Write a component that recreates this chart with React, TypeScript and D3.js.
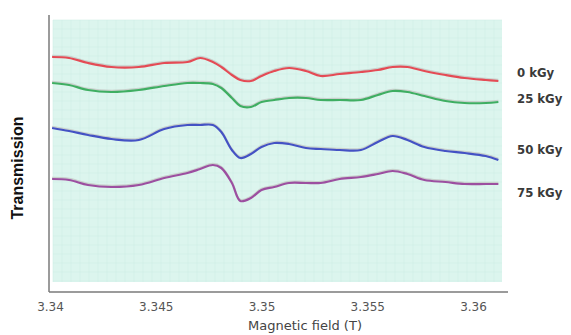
import { useEffect, useRef } from "react";
import * as d3 from "d3";

// magnetic field (T), shared sampling for all four traces
const fields = [3.3401, 3.3409, 3.3418, 3.3429, 3.3442, 3.3454, 3.3465, 3.3471, 3.3477, 3.3481, 3.3486, 3.3490, 3.3495, 3.3500,
    3.3506, 3.3513, 3.3521, 3.3528, 3.3537, 3.3547, 3.3555, 3.3562, 3.3569, 3.3577, 3.3587, 3.3596, 3.3606, 3.3612];

// transmission, arbitrary units (traces offset vertically)
const dose0 = [225, 224, 219, 215, 215, 219, 220, 224, 220, 215, 207, 202, 201, 206, 211, 214, 211, 206, 208, 210, 212, 215, 215, 211, 207, 204, 202, 201];
const dose25 = [199, 197, 192, 190, 192, 196, 199, 199, 198, 194, 184, 176, 175, 180, 182, 184, 184, 182, 182, 182, 187, 191, 190, 186, 181, 179, 179, 180];
const dose50 = [154, 151, 147, 143, 142, 153, 157, 157, 157, 150, 132, 124, 128, 135, 139, 138, 134, 133, 132, 132, 140, 146, 142, 135, 131, 129, 126, 122];
const dose75 = [103, 102, 97, 95, 97, 104, 109, 113, 117, 114, 99, 81, 84, 92, 95, 99, 99, 99, 103, 105, 108, 111, 108, 102, 100, 98, 98, 98];

const seriesLabels = ["0 kGy", "25 kGy", "50 kGy", "75 kGy"];
const seriesColors = ["#e44b55", "#3fae62", "#4452c4", "#9c4fa0"];
const xTicks = [3.34, 3.345, 3.35, 3.355, 3.36];

export default function App() {
    const ref = useRef<SVGSVGElement>(null);

    useEffect(() => {
        const svg = d3.select(ref.current);
        svg.selectAll("*").remove();

        const x = d3.scaleLinear().domain([3.34, 3.36]).range([50, 473]);
        const y = d3.scaleLinear().domain([0, 262]).range([282, 20]);

        // plot background
        svg.append("rect")
            .attr("x", 53).attr("y", 20)
            .attr("width", 449).attr("height", 262)
            .attr("fill", "#dcf5ee");

        // faint chart-paper grid
        const grid = svg.append("g").attr("stroke", "#d0eee5").attr("stroke-width", 0.6);
        d3.range(53, 502, 9).forEach(gx => {
            grid.append("line").attr("x1", gx).attr("x2", gx).attr("y1", 20).attr("y2", 282);
        });
        d3.range(20, 282, 9).forEach(gy => {
            grid.append("line").attr("x1", 53).attr("x2", 502).attr("y1", gy).attr("y2", gy);
        });

        // axes lines
        svg.append("line")
            .attr("x1", 49).attr("x2", 49).attr("y1", 15).attr("y2", 292)
            .attr("stroke", "#7a7a7a").attr("stroke-width", 1.5);
        svg.append("line")
            .attr("x1", 49).attr("x2", 508).attr("y1", 292).attr("y2", 292)
            .attr("stroke", "#7a7a7a").attr("stroke-width", 1.5);

        const xAxis = d3.axisBottom(x).tickValues(xTicks).tickSize(0).tickFormat(d3.format(""));
        const gx = svg.append("g")
            .attr("transform", "translate(0,292)")
            .call(xAxis);
        gx.select(".domain").remove();
        gx.selectAll("text")
            .attr("y", 10)
            .attr("fill", "#555")
            .style("font-family", "DejaVu Sans, sans-serif")
            .style("font-size", "12px");

        svg.append("text")
            .attr("x", 305).attr("y", 330)
            .attr("text-anchor", "middle")
            .attr("fill", "#444")
            .style("font-family", "DejaVu Sans, sans-serif")
            .style("font-size", "13px")
            .text("Magnetic field (T)");

        svg.append("text")
            .attr("transform", "translate(23,168) rotate(-90)")
            .attr("text-anchor", "middle")
            .attr("fill", "#111")
            .style("font-family", "Liberation Sans, Arial, sans-serif")
            .style("font-weight", "bold")
            .style("font-size", "16px")
            .text("Transmission");

        const series = [dose0, dose25, dose50, dose75];
        const line = d3.line<number>()
            .x((_, i) => x(fields[i]))
            .y(d => y(d))
            .curve(d3.curveCatmullRom.alpha(0.5));

        series.forEach((vals, k) => {
            // light shadow trace
            svg.append("path")
                .attr("d", line(vals.map(v => v + 1.5)))
                .attr("fill", "none")
                .attr("stroke", "#c8d0cc")
                .attr("stroke-width", 1.5);
            svg.append("path")
                .attr("d", line(vals))
                .attr("fill", "none")
                .attr("stroke", seriesColors[k])
                .attr("stroke-width", 2.2);
        });

        const labelY = [77, 103, 154, 197];
        seriesLabels.forEach((lab, k) => {
            svg.append("text")
                .attr("x", 517).attr("y", labelY[k])
                .attr("fill", "#3a3a3a")
                .style("font-family", "Liberation Sans Narrow, DejaVu Sans Condensed, sans-serif")
                .style("font-weight", "bold")
                .style("font-size", "13px")
                .text(lab);
        });
    }, []);

    return <svg ref={ref} width={571} height={335}
                style={{position: "absolute", left: 0, top: 0, background: "#fff"}}/>;
}
